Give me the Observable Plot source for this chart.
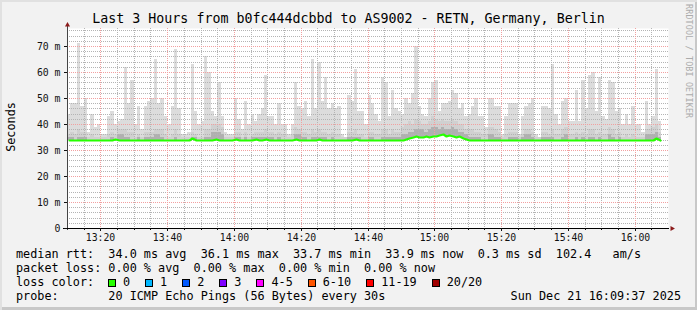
<!DOCTYPE html>
<html><head><meta charset="utf-8">
<script src="https://cdn.jsdelivr.net/npm/d3@7"></script>
<script src="https://cdn.jsdelivr.net/npm/@observablehq/plot@0.6"></script>
<style>
body{margin:0;background:#f2f2f2;}
#chart{position:relative;width:697px;height:310px;background:#f2f2f2;overflow:hidden;
  box-shadow: inset 2px 2px 0 #e1e1e1, inset -2px -3px 0 #c8c8c8;
  font-family:"DejaVu Sans Mono",monospace;color:#000;}
#chart svg{position:absolute;left:0;top:0;}
.t{position:absolute;white-space:pre;font-size:11.8px;line-height:14px;}
.title{position:absolute;left:0;width:697px;top:11px;text-align:center;font-size:13.3px;line-height:16px;white-space:pre;}
.ylab{position:absolute;left:11px;top:127px;transform:translate(-50%,-50%) rotate(-90deg);font-size:11.8px;white-space:pre;}
.credit{position:absolute;left:684px;top:4px;writing-mode:vertical-rl;font-size:8.3px;color:#ababab;white-space:pre;letter-spacing:0.2px;}
.sw{display:inline-block;width:6px;height:6px;border:1px solid #000;margin-right:7px;vertical-align:-0.5px;}
.li{display:inline-block;margin-right:15px;}
</style></head>
<body>
<div id="chart"></div>
<script>
// ---- data ----
const titleText = "Last 3 Hours from b0fc444dcbbd to AS9002 - RETN, Germany, Berlin";
const yLabel = "Seconds";
const creditText = "RRDTOOL / TOBI OETIKER";
const startUTC = Date.UTC(2025, 11, 21, 13, 10);
const endUTC = Date.UTC(2025, 11, 21, 16, 10);
const stepMinutes = 1;

// top of smoke (max ping, ms) per minute
const smokeMaxA = [44,48,48,71,47,50,37,44,39,40,36,36,43,45,40,41,42,62,48,57,40,47,38,47,49,50,65,48,50,43,40,47,69,46,36,36,37,63,45,40,41,66,60,45,43,56,43,37,36,36,50,42,38,49,40,44,41,44,46,59];
const smokeMaxB = [43,43,40,48,40,40,36,40,56,47,46,49,43,65,46,64,49,58,46,48,46,47,36,35,51,49,61,45,45,40,51,48,44,41,58,56,43,53,46,45,44,50,48,52,70,47,44,43,50,56,57,45,48,48,49,53,52,46,48,43];
const smokeMaxC = [44,47,50,43,43,39,50,50,47,47,36,43,48,48,48,36,43,47,48,50,36,35,47,47,46,63,44,40,49,50,41,41,53,41,57,46,59,60,45,58,43,42,57,56,45,46,40,44,40,47,40,40,37,49,40,43,61,41];
// denser (medium) smoke top
const smokeMidA = [36,37,36,38,37,37,35,36,35,35,35,35,36,37,36,38,38,38,37,37,35,36,35,37,37,37,38,38,38,36,35,36,38,36,35,35,35,37,36,35,35,38,38,40,40,40,39,35,35,35,37,37,35,37,35,36,37,37,37,38];
const smokeMidB = [37,37,36,37,36,36,35,36,39,38,37,37,36,38,37,38,37,37,36,37,36,36,35,35,37,37,38,36,36,35,37,37,36,36,38,38,36,38,37,37,39,40,41,40,42,41,40,40,41,43,42,41,42,41,41,42,41,40,40,38];
const smokeMidC = [38,38,37,37,36,36,39,39,38,37,35,36,37,37,37,35,36,38,38,37,35,35,37,37,36,38,36,36,38,39,36,36,37,36,37,36,38,38,36,37,36,36,39,38,36,37,35,36,35,36,35,35,35,38,38,39,40,37];
// densest smoke top
const smokeDarkA = [35,35,34,35,35,35,34,34,34,34,34,34,34,35,34,36,36,35,35,34,34,35,34,35,35,35,36,36,35,34,34,34,35,34,34,34,34,35,35,34,34,35,35,37,37,37,36,34,34,34,35,35,34,35,34,35,35,35,35,35];
const smokeDarkB = [35,35,34,35,34,34,34,34,36,36,35,35,34,35,35,35,35,35,34,35,34,34,34,34,35,35,35,35,34,34,35,35,34,34,35,35,35,35,35,35,36,36,37,37,38,38,38,37,38,39,39,38,39,38,38,39,38,37,37,36];
const smokeDarkC = [35,35,35,35,34,34,36,36,35,35,34,34,35,35,35,34,35,36,36,35,34,34,35,35,35,35,34,34,35,36,34,34,35,34,35,34,35,35,34,35,34,34,36,35,34,35,34,34,34,34,34,34,34,36,36,36,37,35];
// median rtt (ms)
const medianA = [33.9,33.9,33.8,34.0,33.9,33.9,33.8,33.8,33.8,33.9,33.8,34.0,33.8,33.9,34.1,33.9,34.0,33.8,33.9,33.9,33.8,33.9,33.9,34.0,33.8,33.8,33.9,33.9,34.0,33.9,33.8,34.0,33.9,33.8,33.8,33.8,33.9,34.6,33.9,33.8,33.9,34.0,34.0,33.9,34.2,33.9,34.0,33.9,33.8,33.9,34.1,33.9,33.8,33.9,33.8,33.9,34.1,33.9,34.0,34.1];
const medianB = [34.0,33.9,33.9,33.8,33.9,33.8,33.8,33.9,34.1,33.9,33.9,34.0,33.9,34.0,33.9,34.3,34.0,34.0,33.9,33.9,33.8,33.8,33.8,33.8,34.0,33.9,34.2,33.9,33.8,33.8,33.9,33.8,33.8,33.8,33.9,33.9,33.8,33.9,33.9,34.0,34.0,34.3,34.6,34.9,35.3,34.8,35.1,35.4,35.0,35.5,35.2,35.6,36.1,35.4,35.8,35.2,35.0,35.3,34.6,34.2];
const medianC = [33.9,33.9,33.8,33.8,33.8,33.8,33.9,33.8,33.8,33.8,33.8,33.9,33.8,33.8,33.8,33.8,33.8,33.9,34.0,33.9,33.8,33.8,33.8,33.8,33.9,34.0,33.8,33.8,33.8,33.9,33.8,33.8,33.8,33.8,33.8,33.8,33.9,33.9,33.8,33.9,33.8,33.8,33.9,33.9,33.8,33.8,33.8,33.8,33.8,33.8,33.8,33.8,33.8,34.0,33.9,33.9,34.5,33.9];

const yMajorTicks = [0,10,20,30,40,50,60,70];
const yMinorTicks = [2,4,6,8,12,14,16,18,22,24,26,28,32,34,36,38,42,44,46,48,52,54,56,58,62,64,66,68,72,74,76];
const yMax = 76.9;
const xMajorLabels = ["13:20","13:40","14:00","14:20","14:40","15:00","15:20","15:40","16:00"];
const xMinorLabels = ["13:15","13:25","13:30","13:35","13:45","13:50","13:55","14:05","14:10","14:15","14:25","14:30","14:35","14:45","14:50","14:55","15:05","15:10","15:15","15:25","15:30","15:35","15:45","15:50","15:55","16:05"];

const statLine1 = "median rtt:  34.0 ms avg  36.1 ms max  33.7 ms min  33.9 ms now  0.3 ms sd  102.4   am/s";
const statLine2 = "packet loss: 0.00 % avg  0.00 % max  0.00 % min  0.00 % now";
const lossTitle = "loss color:";
const lossLabels = ["0","1","2","3","4-5","6-10","11-19","20/20"];
const lossColors = ["#26ff00","#00b8ff","#0059ff","#7e00ff","#ff00ff","#ff5500","#ff0000","#a00000"];
const probeLine = "probe:       20 ICMP Echo Pings (56 Bytes) every 30s";
const dateText = "Sun Dec 21 16:09:37 2025";

// ---- build ----
const smokeMax = [...smokeMaxA, ...smokeMaxB, ...smokeMaxC];
const smokeMid = [...smokeMidA, ...smokeMidB, ...smokeMidC];
const smokeDark = [...smokeDarkA, ...smokeDarkB, ...smokeDarkC];
const median = [...medianA, ...medianB, ...medianC];
const MIN = 60000;
const rows = smokeMax.map((v, i) => ({
  t1: new Date(startUTC + i * stepMinutes * MIN),
  t2: new Date(startUTC + (i + 1) * stepMinutes * MIN),
  tm: new Date(startUTC + (i + 0.5) * stepMinutes * MIN),
  max: v, mid: smokeMid[i], dark: smokeDark[i], median: median[i]
}));
const parseHM = s => { const [h, m] = s.split(":").map(Number); return new Date(Date.UTC(2025, 11, 21, h, m)); };
const xMajor = xMajorLabels.map(parseHM);
const xMinor = xMinorLabels.map(parseHM);
const fmt = d3.utcFormat("%H:%M");
const font = "DejaVu Sans Mono";

const plot = Plot.plot({
  width: 697, height: 245,
  marginLeft: 67, marginRight: 29, marginTop: 28, marginBottom: 17,
  style: {background: "transparent", fontFamily: font, fontSize: "9.8px", color: "#111"},
  x: {type: "utc", domain: [new Date(startUTC), new Date(endUTC)], round: true},
  y: {domain: [0, yMax], round: true},
  marks: [
    Plot.frame({fill: "white", stroke: "none"}),
    Plot.rect(rows, {x1: "t1", x2: "t2", y1: "median", y2: "max", fill: "#dcdcdc", inset: 0}),
    Plot.rect(rows, {x1: "t1", x2: "t2", y1: "median", y2: "mid", fill: "#d0d0d0", inset: 0}),
    Plot.rect(rows, {x1: "t1", x2: "t2", y1: "median", y2: "dark", fill: "#b0b0b0", inset: 0}),
    Plot.ruleY(yMinorTicks, {stroke: "#b4b4b4", strokeDasharray: "1,1"}),
    Plot.ruleX(xMinor, {stroke: "#b4b4b4", strokeDasharray: "1,1"}),
    Plot.ruleY(yMajorTicks.filter(d => d > 0), {stroke: "#f2a0a0", strokeDasharray: "1,1"}),
    Plot.ruleX(xMajor, {stroke: "#f2a0a0", strokeDasharray: "1,1"}),
    Plot.line(rows, {x: "tm", y: "median", stroke: "#26ff00", strokeWidth: 2.2}),
    Plot.ruleX([new Date(startUTC)], {stroke: "#444", insetTop: -3, insetBottom: -2}),
    Plot.ruleY([0], {stroke: "#000", insetLeft: -4, insetRight: -1}),
    Plot.dot([0], {x: () => new Date(startUTC), y: () => yMax, symbol: "triangle", r: 1.9, fill: "#8b1a1a", stroke: "none", dy: -3.5}),
    Plot.dot([0], {x: () => new Date(endUTC), y: () => 0, symbol: "triangle", r: 1.9, fill: "#8b1a1a", stroke: "none", rotate: 90, dx: 3.5}),
    Plot.axisY({ticks: yMajorTicks, tickSize: 3, tickPadding: 4, label: null, tickFormat: d => d === 0 ? "0" : d + " m"}),
    Plot.axisX({ticks: xMajor, tickSize: 3, tickPadding: 3, label: null, tickFormat: fmt}),
    Plot.axisX({ticks: xMinor, tickSize: 2, label: null, tickFormat: () => ""})
  ]
});

const chart = document.getElementById("chart");
chart.appendChild(plot);

function addDiv(cls, text, css) {
  const d = document.createElement("div");
  d.className = cls;
  if (text != null) d.textContent = text;
  Object.assign(d.style, css || {});
  chart.appendChild(d);
  return d;
}
addDiv("title", titleText);
addDiv("ylab", yLabel);
addDiv("credit", creditText);
addDiv("t", statLine1, {left: "16px", top: "247px"});
addDiv("t", statLine2, {left: "16px", top: "261px"});
addDiv("t", lossTitle, {left: "16px", top: "275px"});
const lossRow = addDiv("t", null, {left: "108px", top: "275px"});
lossLabels.forEach((lab, i) => {
  const item = document.createElement("span");
  item.className = "li";
  const sw = document.createElement("span");
  sw.className = "sw";
  sw.style.background = lossColors[i];
  item.appendChild(sw);
  item.appendChild(document.createTextNode(lab));
  lossRow.appendChild(item);
});
addDiv("t", probeLine, {left: "16px", top: "289px"});
addDiv("t", dateText, {right: "16px", top: "289px"});
</script>
</body></html>
